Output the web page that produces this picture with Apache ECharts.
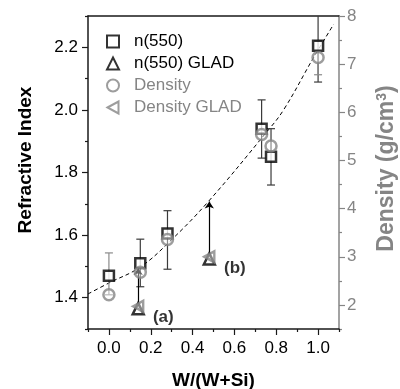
<!DOCTYPE html>
<html>
<head>
<meta charset="utf-8">
<script src="https://cdn.jsdelivr.net/npm/echarts@6/dist/echarts.min.js"></script>
<style>
  html, body { margin: 0; padding: 0; background: #fff; }
  #chart { width: 400px; height: 389px; }
</style>
</head>
<body>
<div id="chart"></div>
<script>
// Composition W/(W+Si) of the co-deposited films
const compX = [0, 0.15, 0.28, 0.73, 0.775, 1.0];
// Refractive index at 550 nm
const n550 = [1.47, 1.51, 1.605, 1.94, 1.85, 2.205];
// Film density (g/cm3)
const density = [2.21, 2.68, 3.36, 5.54, 5.30, 7.14];

// GLAD (glancing-angle) films
const gladX = [0.14, 0.48];
const n550Glad = [1.365, 1.524];
const densityGlad = [1.97, 3.0];
const gladTags = ['(a)', '(b)'];
// arrows from each GLAD film up to the dense-film trend
const arrowTop = [1.495, 1.707];

// error bars on the refractive index
const nErrX = [0.15, 0.28, 0.73, 0.775, 1.0];
const nErrLow = [1.435, 1.491, 1.846, 1.76, 2.089];
const nErrHigh = [1.587, 1.678, 2.032, 1.94, 2.32];
// error bars on the density
const dErrX = [0, 1.0];
const dErrLow = [2.21, 6.78];
const dErrHigh = [3.08, 7.49];

// dashed trend curve
const fitX = [-0.1, 0.0, 0.15, 0.29, 0.475, 0.75, 0.835, 0.98, 1.075];
const fitN = [1.412, 1.447, 1.498, 1.579, 1.707, 1.926, 2.0, 2.169, 2.274];

// tick positions
const xMajor = [0, 0.2, 0.4, 0.6, 0.8, 1.0];
const xMinor = [-0.1, 0.1, 0.3, 0.5, 0.7, 0.9, 1.1];
const nMajor = [1.4, 1.6, 1.8, 2.0, 2.2];
const nMinor = [1.3, 1.5, 1.7, 1.9, 2.1, 2.3];
const dMajor = [2, 3, 4, 5, 6, 7, 8];
const dMinor = [1.5, 2.5, 3.5, 4.5, 5.5, 6.5, 7.5];

const FONT = '"Liberation Sans", Arial, sans-serif';
const BLACK = '#000';
const GRAY = '#858585';
const AXIS = '#1a1a1a';
// left-pointing triangle marker
const LEFT_TRIANGLE = 'path://M0,6L11,0L11,12Z';

const pairs = (xs, ys) => xs.map((x, i) => [x, ys[i]]);

function errorBars(color) {
  return function (params, api) {
    const x = api.value(0);
    const lo = api.coord([x, api.value(1)]);
    const hi = api.coord([x, api.value(2)]);
    const cs = params.coordSys;
    const top = cs.y, bottom = cs.y + cs.height;
    const w = 4;
    const children = [];
    const y1 = Math.max(hi[1], top), y2 = Math.min(lo[1], bottom);
    children.push({ type: 'line', shape: { x1: lo[0], y1: y1, x2: lo[0], y2: y2 },
      style: { stroke: color, lineWidth: 1.2 } });
    if (hi[1] >= top) children.push({ type: 'line', shape: { x1: hi[0] - w, y1: hi[1], x2: hi[0] + w, y2: hi[1] },
      style: { stroke: color, lineWidth: 1.2 } });
    if (lo[1] <= bottom) children.push({ type: 'line', shape: { x1: lo[0] - w, y1: lo[1], x2: lo[0] + w, y2: lo[1] },
      style: { stroke: color, lineWidth: 1.2 } });
    return { type: 'group', children: children };
  };
}

const chart = echarts.init(document.getElementById('chart'), null, { renderer: 'canvas' });

const hidden = { show: false };
const noLine = { show: false, onZero: false };

chart.setOption({
  animation: false,
  backgroundColor: '#fff',
  textStyle: { fontFamily: FONT },
  grid: { left: 88, right: 61, top: 16, bottom: 60, containLabel: false, outerBoundsMode: 'none' },
  legend: {
    orient: 'vertical',
    left: 101, top: 28,
    itemWidth: 12, itemHeight: 12, itemGap: 5,
    textStyle: { fontFamily: FONT, fontSize: 17, padding: [0, 0, 0, 10] },
    data: [
      { name: 'n(550)', textStyle: { color: BLACK } },
      { name: 'n(550) GLAD', textStyle: { color: BLACK } },
      { name: 'Density', textStyle: { color: GRAY } },
      { name: 'Density GLAD', textStyle: { color: GRAY } }
    ]
  },
  xAxis: [
    {
      type: 'value', position: 'bottom', min: -0.1, max: 1.1, interval: 0.1,
      axisLine: { onZero: false, lineStyle: { color: AXIS, width: 1.5 } },
      axisTick: { customValues: xMajor, length: 6, lineStyle: { color: AXIS, width: 1.2 } },
      axisLabel: { customValues: xMajor, formatter: v => Number(v).toFixed(1),
        fontSize: 17, color: BLACK, fontFamily: FONT, margin: 11 },
      splitLine: hidden,
      name: 'W/(W+Si)', nameLocation: 'middle', nameGap: 42,
      nameTextStyle: { fontSize: 19, fontWeight: 'bold', color: BLACK, fontFamily: FONT }
    },
    {
      type: 'value', position: 'bottom', min: -0.1, max: 1.1, interval: 0.1,
      axisLine: noLine, axisLabel: hidden, splitLine: hidden,
      axisTick: { customValues: xMinor, length: 3, lineStyle: { color: AXIS, width: 1.2 } }
    },
    {
      type: 'value', position: 'top', min: -0.1, max: 1.1, interval: 0.1,
      axisLine: { onZero: false, lineStyle: { color: AXIS, width: 1.5 } },
      axisTick: hidden, axisLabel: hidden, splitLine: hidden
    }
  ],
  yAxis: [
    {
      type: 'value', position: 'left', min: 1.3, max: 2.3, interval: 0.1,
      axisLine: { show: true, onZero: false, lineStyle: { color: AXIS, width: 1.5 } },
      axisTick: { show: true, customValues: nMajor, length: 6, lineStyle: { color: AXIS, width: 1.2 } },
      axisLabel: { customValues: nMajor, formatter: v => Number(v).toFixed(1),
        fontSize: 17, color: BLACK, fontFamily: FONT, margin: 10 },
      splitLine: hidden,
      name: 'Refractive Index', nameLocation: 'middle', nameGap: 53,
      nameTextStyle: { fontSize: 19, fontWeight: 'bold', color: BLACK, fontFamily: FONT,
        padding: [0, 0, 0, 25] }
    },
    {
      type: 'value', position: 'left', min: 1.3, max: 2.3, interval: 0.1,
      axisLine: noLine, axisLabel: hidden, splitLine: hidden,
      axisTick: { show: true, customValues: nMinor, length: 3, lineStyle: { color: AXIS, width: 1.2 } }
    },
    {
      type: 'value', position: 'right', min: 1.5, max: 8, interval: 0.5,
      axisLine: { show: true, onZero: false, lineStyle: { color: GRAY, width: 1.5 } },
      axisTick: { show: true, customValues: dMajor, length: 6, lineStyle: { color: GRAY, width: 1.2 } },
      axisLabel: { customValues: dMajor, fontSize: 17, color: GRAY, fontFamily: FONT, margin: 8 },
      splitLine: hidden,
      name: 'Density (g/cm{sup|3})', nameLocation: 'middle', nameGap: 36, nameRotate: 90,
      nameTextStyle: { fontSize: 23, fontWeight: 'bold', color: GRAY, fontFamily: FONT,
        padding: [0, 0, 0, 8],
        rich: { sup: { fontSize: 14, fontWeight: 'bold', color: GRAY, fontFamily: FONT,
          verticalAlign: 'top', padding: [0, 0, 10, 0] } } }
    },
    {
      type: 'value', position: 'right', min: 1.5, max: 8, interval: 0.5,
      axisLine: noLine, axisLabel: hidden, splitLine: hidden,
      axisTick: { show: true, customValues: dMinor, length: 3, lineStyle: { color: GRAY, width: 1.2 } }
    }
  ],
  series: [
    {
      name: 'fit', type: 'line', xAxisIndex: 0, yAxisIndex: 0, z: 2, silent: true,
      data: pairs(fitX, fitN), smooth: 0.4, symbol: 'none',
      lineStyle: { color: BLACK, width: 1, type: [4, 3] }
    },
    {
      name: 'n err', type: 'custom', xAxisIndex: 0, yAxisIndex: 0, z: 3, silent: true,
      renderItem: errorBars('#3a3a3a'),
      data: nErrX.map((x, i) => [x, nErrLow[i], nErrHigh[i]])
    },
    {
      name: 'density err', type: 'custom', xAxisIndex: 0, yAxisIndex: 2, z: 3, silent: true,
      renderItem: errorBars('#8a8a8a'),
      data: dErrX.map((x, i) => [x, dErrLow[i], dErrHigh[i]])
    },
    {
      name: 'arrows', type: 'lines', coordinateSystem: 'cartesian2d', xAxisIndex: 0, yAxisIndex: 0,
      z: 3, silent: true, symbol: ['none', 'arrow'], symbolSize: 7,
      lineStyle: { color: BLACK, width: 1.2, opacity: 1 },
      data: gladX.map((x, i) => ({ coords: [[x, n550Glad[i]], [x, arrowTop[i]]] }))
    },
    {
      name: 'n(550)', type: 'scatter', xAxisIndex: 0, yAxisIndex: 0, z: 4,
      symbol: 'rect', symbolSize: 10,
      itemStyle: { color: '#fff', borderColor: BLACK, borderWidth: 2.5 },
      data: pairs(compX, n550)
    },
    {
      name: 'n(550) GLAD', type: 'scatter', xAxisIndex: 0, yAxisIndex: 0, z: 4,
      symbol: 'triangle', symbolSize: 11,
      itemStyle: { color: '#fff', borderColor: BLACK, borderWidth: 2.5 },
      label: { show: true, position: 'right', distance: 8, offset: [0, 9],
        formatter: p => gladTags[p.dataIndex],
        fontSize: 17, fontWeight: 'bold', color: BLACK, fontFamily: FONT },
      data: pairs(gladX, n550Glad)
    },
    {
      name: 'Density', type: 'scatter', xAxisIndex: 0, yAxisIndex: 2, z: 5,
      symbol: 'circle', symbolSize: 11,
      itemStyle: { color: 'rgba(255,255,255,0.5)', borderColor: GRAY, borderWidth: 2.5 },
      data: pairs(compX, density)
    },
    {
      name: 'Density GLAD', type: 'scatter', xAxisIndex: 0, yAxisIndex: 2, z: 5,
      symbol: LEFT_TRIANGLE, symbolSize: [10, 11],
      itemStyle: { color: 'rgba(255,255,255,0.5)', borderColor: GRAY, borderWidth: 2.5 },
      data: pairs(gladX, densityGlad)
    }
  ]
});
</script>
</body>
</html>
